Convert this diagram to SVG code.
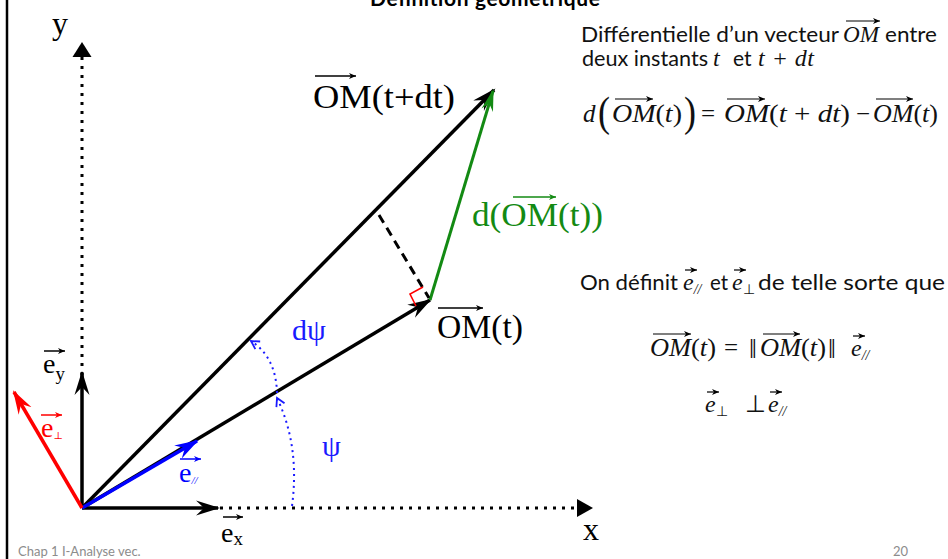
<svg xmlns="http://www.w3.org/2000/svg" width="948" height="559" viewBox="0 0 948 559">
<defs>
<style>
.lbl{font-family:"Liberation Serif","DejaVu Serif",serif}
.sans{font-family:Lato,"Open Sans","Liberation Sans",sans-serif;fill:#111}
.mi{font-family:"Liberation Serif","Times New Roman",serif;font-style:italic;fill:#111}
.mu{font-family:"Liberation Serif","Times New Roman",serif;fill:#111}
.vec{stroke-width:3.5;fill:none}
.ov{stroke-width:1.5;fill:none}
.ovs{stroke-width:1.2;fill:none;stroke:#000}
.foot{font-family:Lato,"Open Sans","Liberation Sans",sans-serif;fill:#8c8c8c}
</style>
<marker id="ahK" viewBox="-24 -8 26 16" refX="-2" refY="0" markerWidth="26" markerHeight="16" markerUnits="userSpaceOnUse" orient="auto"><path d="M0,0 L-24,-7.5 L-16,0 L-24,7.5 Z" fill="#000"/></marker>
<marker id="ahG" viewBox="-24 -8 26 16" refX="-2" refY="0" markerWidth="26" markerHeight="16" markerUnits="userSpaceOnUse" orient="auto"><path d="M0,0 L-22,-6 L-15,0 L-22,6 Z" fill="#138a13"/></marker>
<marker id="ahB" viewBox="-24 -8 26 16" refX="-2" refY="0" markerWidth="26" markerHeight="16" markerUnits="userSpaceOnUse" orient="auto"><path d="M0,0 L-24,-7.5 L-16,0 L-24,7.5 Z" fill="#0000ff"/></marker>
<marker id="ahR" viewBox="-24 -8 26 16" refX="-2" refY="0" markerWidth="26" markerHeight="16" markerUnits="userSpaceOnUse" orient="auto"><path d="M0,0 L-24,-7.5 L-16,0 L-24,7.5 Z" fill="#ff0000"/></marker>
<marker id="ahD" viewBox="-10 -6 12 12" refX="0" refY="0" markerWidth="12" markerHeight="12" markerUnits="userSpaceOnUse" orient="auto"><path d="M-8,-4.5 L0,0 L-8,4.5" fill="none" stroke="#1a1aff" stroke-width="1.8"/></marker>
<marker id="oaK" viewBox="-8 -4 9 8" refX="0" refY="0" markerWidth="9" markerHeight="8" markerUnits="userSpaceOnUse" orient="auto"><path d="M0,0 L-7,-3 L-5,0 L-7,3 Z" fill="#000"/></marker>
<marker id="oaG" viewBox="-8 -4 9 8" refX="0" refY="0" markerWidth="9" markerHeight="8" markerUnits="userSpaceOnUse" orient="auto"><path d="M0,0 L-7,-3 L-5,0 L-7,3 Z" fill="#138a13"/></marker>
<marker id="oaB" viewBox="-8 -4 9 8" refX="0" refY="0" markerWidth="9" markerHeight="8" markerUnits="userSpaceOnUse" orient="auto"><path d="M0,0 L-7,-3 L-5,0 L-7,3 Z" fill="#0000ff"/></marker>
<marker id="oaR" viewBox="-8 -4 9 8" refX="0" refY="0" markerWidth="9" markerHeight="8" markerUnits="userSpaceOnUse" orient="auto"><path d="M0,0 L-7,-3 L-5,0 L-7,3 Z" fill="#ff0000"/></marker>
</defs>
<rect width="948" height="559" fill="#fff"/>
<line x1="7" y1="0" x2="7" y2="559" stroke="#000" stroke-width="2.5"/>

<g id="connectors">
  <line id="y-dotted" x1="82" y1="375" x2="82" y2="56" stroke="#000" stroke-width="3" stroke-dasharray="3 6"/>
  <polygon points="82,42 72.5,57 91.5,57" fill="#000"/>
  <line id="x-dotted" x1="220" y1="508" x2="576" y2="508" stroke="#000" stroke-width="3" stroke-dasharray="3 6"/>
  <polygon points="593,508 577,499 577,517" fill="#000"/>
  <line id="ey" x1="82" y1="508" x2="82" y2="373" stroke="#000" class="vec" marker-end="url(#ahK)"/>
  <line id="ex" x1="82" y1="508" x2="218" y2="508" stroke="#000" class="vec" marker-end="url(#ahK)"/>
  <line id="OMt" x1="82" y1="508" x2="430" y2="300" stroke="#000" class="vec" marker-end="url(#ahK)"/>
  <line id="OMtdt" x1="82" y1="508" x2="494" y2="90" stroke="#000" class="vec" marker-end="url(#ahK)"/>
  <line id="dOM" x1="430" y1="300" x2="493" y2="91" stroke="#138a13" stroke-width="3" marker-end="url(#ahG)"/>
  <line id="epar" x1="82" y1="508" x2="197" y2="441" stroke="#0000ff" class="vec" marker-end="url(#ahB)"/>
  <line id="eperp" x1="82" y1="508" x2="14" y2="392" stroke="#ff0000" class="vec" marker-end="url(#ahR)"/>
  <line id="dash" x1="379" y1="215" x2="429" y2="298" stroke="#000" stroke-width="3" stroke-dasharray="9 6"/>
  <polyline points="423,287 410,294 416,306" fill="none" stroke="#ff0000" stroke-width="1.6"/>
  <path id="arc-psi" d="M292,506 Q300,446 277,398" fill="none" stroke="#1a1aff" stroke-width="2" stroke-dasharray="2 4" marker-end="url(#ahD)"/>
  <path id="arc-dpsi" d="M277,393 Q276,357 251,341" fill="none" stroke="#1a1aff" stroke-width="2" stroke-dasharray="2 4" marker-end="url(#ahD)"/>
</g>

<g id="label-y"><text class="lbl" x="52" y="34" font-size="32">y</text></g>
<g id="label-x"><text class="lbl" x="583" y="540" font-size="32">x</text></g>

<g id="label-OMtdt">
  <line x1="315" y1="76" x2="356" y2="76" stroke="#000" class="ov" marker-end="url(#oaK)"/>
  <text class="lbl" x="313" y="108" font-size="33" textLength="142" lengthAdjust="spacingAndGlyphs">OM(t+dt)</text>
</g>
<g id="label-OMt">
  <line x1="438" y1="308" x2="483" y2="308" stroke="#000" class="ov" marker-end="url(#oaK)"/>
  <text class="lbl" x="437" y="338" font-size="33" textLength="86" lengthAdjust="spacingAndGlyphs">OM(t)</text>
</g>
<g id="label-dOM">
  <line x1="513" y1="197" x2="556" y2="197" stroke="#138a13" class="ov" marker-end="url(#oaG)"/>
  <text class="lbl" x="472" y="226" font-size="33" fill="#138a13" textLength="131" lengthAdjust="spacingAndGlyphs">d(OM(t))</text>
</g>
<g id="label-dpsi"><text class="lbl" x="292" y="340" font-size="30" fill="#1a1aff">dψ</text></g>
<g id="label-psi"><text class="lbl" x="322" y="456" font-size="30" fill="#1a1aff">ψ</text></g>

<g id="label-ey">
  <line x1="44" y1="351" x2="65" y2="351" stroke="#000" class="ov" marker-end="url(#oaK)"/>
  <text class="lbl" x="43" y="373" font-size="28">e<tspan font-size="19" dy="7">y</tspan></text>
</g>
<g id="label-eperp">
  <line x1="41" y1="415" x2="62" y2="415" stroke="#ff0000" class="ov" marker-end="url(#oaR)"/>
  <text class="lbl" x="41" y="437" font-size="28" fill="#ff0000">e<tspan font-size="10" dy="2">⊥</tspan></text>
</g>
<g id="label-epar">
  <line x1="180" y1="459" x2="201" y2="459" stroke="#0000ff" class="ov" marker-end="url(#oaB)"/>
  <text class="lbl" x="179" y="482" font-size="28" fill="#0000ff">e<tspan font-size="11" dy="2" font-style="italic">//</tspan></text>
</g>
<g id="label-ex">
  <line x1="223" y1="517" x2="243" y2="517" stroke="#000" class="ov" marker-end="url(#oaK)"/>
  <text class="lbl" x="221" y="542" font-size="28">e<tspan font-size="19" dy="3">x</tspan></text>
</g>

<g id="title"><text x="485" y="6" text-anchor="middle" font-family="Lato,'Open Sans','Liberation Sans',sans-serif" font-weight="bold" font-size="21" fill="#000" textLength="230">Définition géométrique</text></g>

<g id="text-right">
  <text class="sans" x="581" y="42" font-size="21" textLength="258" lengthAdjust="spacingAndGlyphs">Différentielle d’un vecteur</text>
  <line x1="846" y1="21" x2="880" y2="21" class="ovs" marker-end="url(#oaK)"/>
  <text class="mi" x="843" y="42" font-size="24" textLength="36" lengthAdjust="spacingAndGlyphs">OM</text>
  <text class="sans" x="885" y="42" font-size="21" textLength="52" lengthAdjust="spacingAndGlyphs">entre</text>

  <text class="sans" x="582" y="66" font-size="21" textLength="126" lengthAdjust="spacingAndGlyphs">deux instants</text>
  <text class="mi" x="713" y="66" font-size="24">t</text>
  <text class="sans" x="733" y="66" font-size="21">et</text>
  <text class="mi" x="758" y="66" font-size="24" textLength="56">t + dt</text>

  <g id="eq1">
    <text class="mi" x="583" y="122" font-size="25">d</text>
    <text class="mu" x="598" y="126" font-size="36" transform="translate(598 126) scale(1 1.2) translate(-598 -126)">(</text>
    <line x1="615" y1="99" x2="653" y2="99" class="ovs" marker-end="url(#oaK)"/>
    <text class="mi" x="612" y="122" font-size="25" textLength="70" lengthAdjust="spacingAndGlyphs">OM<tspan font-style="normal">(</tspan>t<tspan font-style="normal">)</tspan></text>
    <text class="mu" x="684" y="126" font-size="36" transform="translate(684 126) scale(1 1.2) translate(-684 -126)">)</text>
    <text class="mu" x="701" y="122" font-size="25">=</text>
    <line x1="727" y1="99" x2="765" y2="99" class="ovs" marker-end="url(#oaK)"/>
    <text class="mi" x="724" y="122" font-size="25" textLength="126" lengthAdjust="spacingAndGlyphs">OM<tspan font-style="normal">(</tspan>t <tspan font-style="normal">+</tspan> dt<tspan font-style="normal">)</tspan></text>
    <text class="mu" x="856" y="122" font-size="25">−</text>
    <line x1="876" y1="99" x2="913" y2="99" class="ovs" marker-end="url(#oaK)"/>
    <text class="mi" x="873" y="122" font-size="25" textLength="65" lengthAdjust="spacingAndGlyphs">OM<tspan font-style="normal">(</tspan>t<tspan font-style="normal">)</tspan></text>
  </g>

  <text class="sans" x="580" y="290" font-size="21" textLength="98" lengthAdjust="spacingAndGlyphs">On définit</text>
  <line x1="685" y1="270" x2="697" y2="270" class="ovs" stroke-width="1.1" marker-end="url(#oaK)"/>
  <text class="mi" x="683" y="290" font-size="24">e<tspan font-size="14" dy="4">//</tspan></text>
  <text class="sans" x="710" y="290" font-size="21" textLength="18" lengthAdjust="spacingAndGlyphs">et</text>
  <line x1="734" y1="270" x2="746" y2="270" class="ovs" stroke-width="1.1" marker-end="url(#oaK)"/>
  <text class="mi" x="732" y="290" font-size="24">e<tspan font-size="14" dy="4" font-style="normal">⊥</tspan></text>
  <text class="sans" x="758" y="290" font-size="21" textLength="187" lengthAdjust="spacingAndGlyphs">de telle sorte que</text>

  <g id="eq2">
    <line x1="653" y1="334" x2="691" y2="334" class="ovs" marker-end="url(#oaK)"/>
    <text class="mi" x="650" y="356" font-size="25" textLength="66" lengthAdjust="spacingAndGlyphs">OM<tspan font-style="normal">(</tspan>t<tspan font-style="normal">)</tspan></text>
    <text class="mu" x="724" y="356" font-size="25">=</text>
    <text class="mu" x="749" y="358" font-size="28">‖</text>
    <line x1="763" y1="334" x2="800" y2="334" class="ovs" marker-end="url(#oaK)"/>
    <text class="mi" x="760" y="356" font-size="25" textLength="66" lengthAdjust="spacingAndGlyphs">OM<tspan font-style="normal">(</tspan>t<tspan font-style="normal">)</tspan></text>
    <text class="mu" x="828" y="358" font-size="28">‖</text>
    <line x1="853" y1="336" x2="865" y2="336" class="ovs" stroke-width="1.1" marker-end="url(#oaK)"/>
    <text class="mi" x="851" y="356" font-size="24">e<tspan font-size="14" dy="4">//</tspan></text>
  </g>

  <g id="eq3">
    <line x1="707" y1="392" x2="719" y2="392" class="ovs" stroke-width="1.1" marker-end="url(#oaK)"/>
    <text class="mi" x="705" y="412" font-size="24">e<tspan font-size="14" dy="4" font-style="normal">⊥</tspan></text>
    <text class="mu" x="745" y="412" font-size="24">⊥</text>
    <line x1="770" y1="392" x2="782" y2="392" class="ovs" stroke-width="1.1" marker-end="url(#oaK)"/>
    <text class="mi" x="768" y="412" font-size="24">e<tspan font-size="14" dy="4">//</tspan></text>
  </g>
</g>

<g id="footer">
  <text class="foot" x="18" y="556" font-size="13">Chap 1 I-Analyse vec.</text>
  <text class="foot" x="893" y="556" font-size="13">20</text>
</g>
</svg>
